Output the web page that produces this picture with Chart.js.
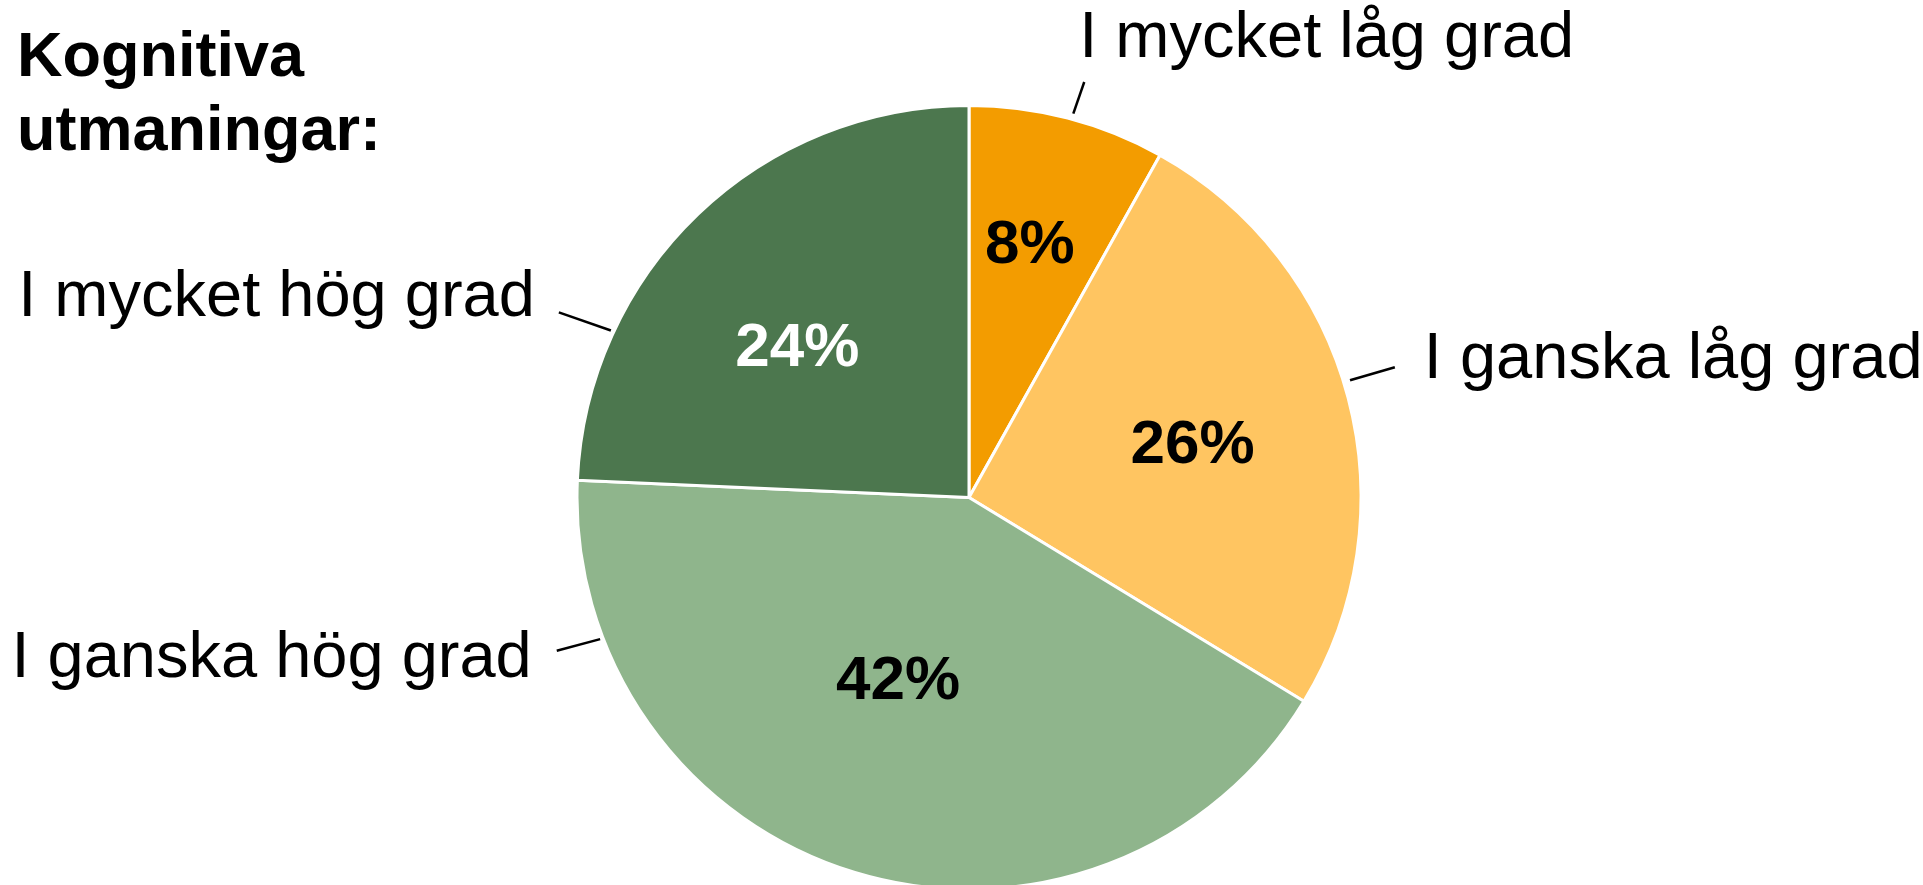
<!DOCTYPE html>
<html lang="sv">
<head>
<meta charset="utf-8">
<title>Kognitiva utmaningar</title>
<script src="https://cdn.jsdelivr.net/npm/chart.js@4.4.1/dist/chart.umd.min.js"></script>
<style>
    html, body { margin: 0; padding: 0; background: #fff; overflow: hidden; }
    #wrap { position: relative; width: 1923px; height: 891px; }
</style>
</head>
<body>
<div id="wrap"><canvas id="chart"></canvas></div>
<script>
const titleLines = ['Kognitiva', 'utmaningar:'];
const categories = ['I mycket låg grad', 'I ganska låg grad', 'I ganska hög grad', 'I mycket hög grad'];
// shares in % (labels show them rounded)
const values = [8.1, 25.6, 42.0, 24.3];
const sliceColors = ['#F39C00', '#FFC561', '#8FB58C', '#4C774E'];
const valueTextColors = ['#000', '#000', '#000', '#fff'];

// value label inside slice: [radius factor, angle shift in deg]
const valuePos = [[0.66, -1.0], [0.585, 1.8], [0.505, 4.1], [0.58, -5.3]];
// leader lines: [startDeg, startR, endDeg, endR, textAlign, dx, dy] (deg clockwise from top)
const leaders = [
    [15.2, 1.015, 15.5, 1.10, 'left', -5, -25],
    [72.9, 1.017, 73.0, 1.136, 'left', 29, 11],
    [249, 1.008, 249.6, 1.122, 'right', -25, 26],
    [295, 1.008, 294.3, 1.148, 'right', -24, 4]
];

const FONT = '"Liberation Sans", Arial, sans-serif';

function polar(cx, cy, deg, r) {
    const a = (deg - 90) * Math.PI / 180;
    return [cx + r * Math.cos(a), cy + r * Math.sin(a)];
}

const pieLabels = {
    id: 'pieLabels',
    afterDatasetsDraw(chart) {
        const ctx = chart.ctx;
        const arcs = chart.getDatasetMeta(0).data;
        ctx.save();
        arcs.forEach((arc, i) => {
            const p = arc.getProps(['x', 'y', 'startAngle', 'endAngle', 'outerRadius'], true);
            // percent inside slice
            const mid = (p.startAngle + p.endAngle) / 2 + valuePos[i][1] * Math.PI / 180;
            const r = p.outerRadius * valuePos[i][0];
            ctx.font = 'bold 62px ' + FONT;
            ctx.fillStyle = valueTextColors[i];
            ctx.textAlign = 'center';
            ctx.textBaseline = 'middle';
            ctx.fillText(Math.round(values[i]) + '%', p.x + r * Math.cos(mid), p.y + r * Math.sin(mid));

            // leader line + category name
            const L = leaders[i];
            const s = polar(p.x, p.y, L[0], p.outerRadius * L[1]);
            const e = polar(p.x, p.y, L[2], p.outerRadius * L[3]);
            ctx.strokeStyle = '#000';
            ctx.lineWidth = 2.5;
            ctx.beginPath();
            ctx.moveTo(s[0], s[1]);
            ctx.lineTo(e[0], e[1]);
            ctx.stroke();

            ctx.font = '65px ' + FONT;
            ctx.fillStyle = '#000';
            ctx.textAlign = L[4];
            ctx.textBaseline = 'alphabetic';
            ctx.fillText(categories[i], e[0] + L[5], e[1] + L[6]);
        });

        // title, top left
        ctx.font = 'bold 63px ' + FONT;
        ctx.fillStyle = '#000';
        ctx.textAlign = 'left';
        ctx.textBaseline = 'alphabetic';
        titleLines.forEach((t, k) => ctx.fillText(t, 17, 76 + k * 74));
        ctx.restore();
    }
};

new Chart(document.getElementById('chart'), {
    type: 'pie',
    data: {
        labels: categories,
        datasets: [{
            data: values,
            backgroundColor: sliceColors,
            borderColor: '#fff',
            borderWidth: 3
        }]
    },
    options: {
        responsive: true,
        maintainAspectRatio: false,
        animation: false,
        events: [],
        layout: { padding: { top: 104, bottom: 0, left: 100, right: 85 } },
        plugins: {
            legend: { display: false },
            tooltip: { enabled: false }
        }
    },
    plugins: [pieLabels]
});
</script>
</body>
</html>
